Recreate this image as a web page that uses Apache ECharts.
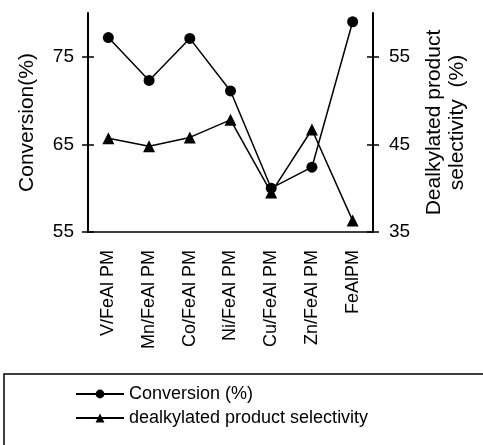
<!DOCTYPE html>
<html><head><meta charset="utf-8">
<script src="https://cdn.jsdelivr.net/npm/echarts@6/dist/echarts.min.js"></script>
<style>html,body{margin:0;padding:0;background:#fff}#c{width:483px;height:445px}</style>
</head><body><div id="c"></div>
<script>
const categories = ['V/FeAl PM','Mn/FeAl PM','Co/FeAl PM','Ni/FeAl PM','Cu/FeAl PM','Zn/FeAl PM','FeAlPM'];
const conversion = [77.2, 72.3, 77.1, 71.1, 60.0, 62.4, 79.0];
const selectivity = [45.7, 44.8, 45.8, 47.8, 39.5, 46.7, 36.3];
const convTicks = [55, 65, 75];
const selTicks = [35, 45, 55];

const FONT = "'Liberation Sans', Arial, Helvetica, sans-serif";
const chart = echarts.init(document.getElementById('c'), null, {renderer: 'canvas'});

function yAx(min, max, ticks, pos, inside, extra) {
  return Object.assign({
    type: 'value', min: min, max: max, position: pos,
    axisLine: {show: !inside, lineStyle: {color: '#000', width: 2}},
    axisTick: {show: true, inside: inside, length: 6, customValues: ticks, lineStyle: {color: '#000', width: 1.5}},
    axisLabel: {show: !inside, customValues: ticks, color: '#000', fontSize: 19, fontFamily: FONT, margin: 14},
    splitLine: {show: false}
  }, extra || {});
}

chart.setOption({
  animation: false,
  backgroundColor: '#fff',
  grid: {left: 88, right: 110, top: 13, bottom: 213, containLabel: false},
  graphic: [{
    type: 'rect', silent: true,
    shape: {x: 4, y: 374, width: 500, height: 100},
    style: {fill: 'none', stroke: '#000', lineWidth: 1.5}
  }],
  legend: {
    orient: 'vertical', left: 75, top: 385,
    padding: 0,
    itemWidth: 48, itemHeight: 11, itemGap: 6,
    textStyle: {color: '#000', fontSize: 18, fontFamily: FONT},
    data: ['Conversion (%)', 'dealkylated product selectivity']
  },
  xAxis: [{
    type: 'category', data: categories, position: 'bottom',
    axisLine: {lineStyle: {color: '#000', width: 1.5}},
    axisTick: {length: 6, lineStyle: {color: '#000', width: 1.5}},
    axisLabel: {rotate: 90, color: '#000', fontSize: 18, fontFamily: FONT, margin: 18, interval: 0}
  }, {
    type: 'category', data: categories, position: 'bottom',
    axisLine: {show: false},
    axisTick: {inside: true, length: 5, lineStyle: {color: '#000', width: 1.5}},
    axisLabel: {show: false}
  }],
  yAxis: [
    yAx(55, 80, convTicks, 'left', false, {
      name: 'Conversion(%)', nameLocation: 'middle', nameRotate: 90, nameGap: 50,
      nameTextStyle: {color: '#000', fontSize: 21, fontFamily: FONT}
    }),
    yAx(35, 60, selTicks, 'right', false, {
      axisLabel: {customValues: selTicks, color: '#000', fontSize: 19, fontFamily: FONT, margin: 16},
      name: 'Dealkylated product\nselectivity  (%)', nameLocation: 'middle', nameRotate: 90, nameGap: 50,
      nameTextStyle: {color: '#000', fontSize: 21, fontFamily: FONT, lineHeight: 23}
    }),
    yAx(55, 80, convTicks, 'left', true),
    yAx(35, 60, selTicks, 'right', true)
  ],
  series: [{
    name: 'Conversion (%)', type: 'line', data: conversion, yAxisIndex: 0,
    symbol: 'circle', symbolSize: 11,
    lineStyle: {color: '#000', width: 1.5}, itemStyle: {color: '#000'}
  }, {
    name: 'dealkylated product selectivity', type: 'line', data: selectivity, yAxisIndex: 1,
    symbol: 'triangle', symbolSize: 12,
    lineStyle: {color: '#000', width: 1.5}, itemStyle: {color: '#000'}
  }]
});
</script></body></html>
